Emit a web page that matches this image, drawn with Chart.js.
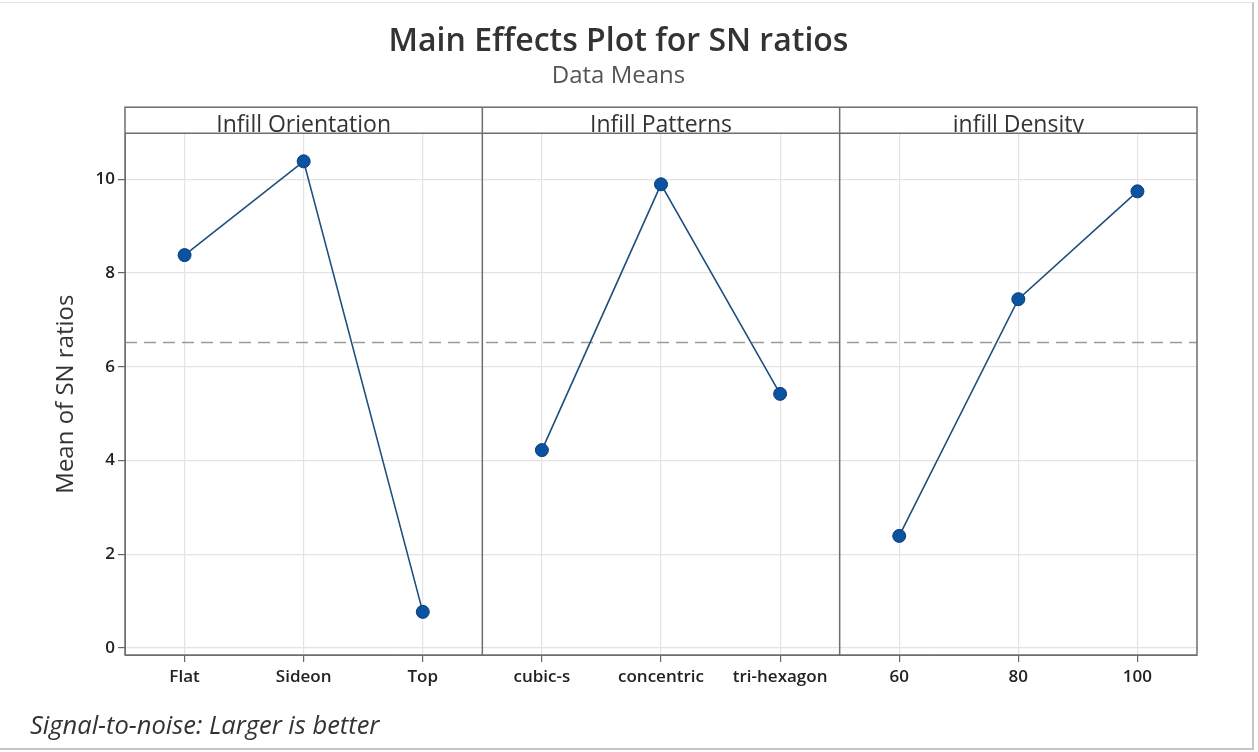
<!DOCTYPE html>
<html>
<head>
<meta charset="utf-8">
<script src="https://cdn.jsdelivr.net/npm/chart.js@4/dist/chart.umd.min.js"></script>
<style>
  html, body { margin: 0; padding: 0; background: #fff; }
  #wrap { position: relative; width: 1258px; height: 752px; }
  #frame { position: absolute; left: 0; top: 2px; width: 1252px; height: 745px;
           border-top: 1px solid #e2e2e2; border-right: 2px solid #c4c4c4; border-bottom: 2px solid #c4c4c4; }
  #note { position: absolute; left: 30px; top: 707px; font: italic 25.5px "Open Sans", sans-serif; color: #333; }
</style>
</head>
<body>
<div id="wrap">
  <canvas id="c" width="1258" height="752"></canvas>
  <div id="frame"></div>
  <div id="note">Signal-to-noise: Larger is better</div>
</div>
<script>
const panelTitles = ['Infill Orientation', 'Infill Patterns', 'infill Density'];
const orientLevels = ['Flat', 'Sideon', 'Top'];
const orientSN = [8.38, 10.38, 0.77];
const patternLevels = ['cubic-s', 'concentric', 'tri-hexagon'];
const patternSN = [4.22, 9.89, 5.42];
const densityLevels = ['60', '80', '100'];
const densitySN = [2.39, 7.44, 9.74];
const yTicks = [0, 2, 4, 6, 8, 10];

const allLevels = [...orientLevels, ...patternLevels, ...densityLevels];
const allSN = [...orientSN, ...patternSN, ...densitySN];
const grandMean = allSN.reduce((a, b) => a + b, 0) / allSN.length;

const pts = (lv, v) => lv.map((l, i) => ({ x: l, y: v[i] }));
const ds = (lv, v) => ({
  data: pts(lv, v), borderColor: '#1f4f7f', borderWidth: 1.6,
  pointRadius: 6.5, pointBackgroundColor: '#0b52a0', pointBorderColor: '#083f7c', pointBorderWidth: 1, tension: 0
});

const panelFrame = {
  id: 'panelFrame',
  beforeDatasetsDraw(chart) {
    const { ctx, chartArea: a, scales: { y } } = chart;
    ctx.save();
    // grand mean reference line
    const ym = y.getPixelForValue(grandMean);
    ctx.strokeStyle = '#9a9a9a'; ctx.lineWidth = 1.5; ctx.setLineDash([12, 7]);
    ctx.beginPath(); ctx.moveTo(a.left, ym); ctx.lineTo(a.right, ym); ctx.stroke();
    ctx.restore();
  },
  afterDraw(chart) {
    const { ctx, chartArea: a, scales: { x, x2 } } = chart;
    ctx.save();
    ctx.strokeStyle = '#6e6e6e'; ctx.lineWidth = 1.5;
    ctx.strokeRect(a.left, x2.top, a.right - a.left, a.bottom - x2.top);
    ctx.beginPath(); ctx.moveTo(a.left, a.top); ctx.lineTo(a.right, a.top); ctx.stroke();
    [2.5, 5.5].forEach(v => {
      const px = x.getPixelForValue(v);
      ctx.beginPath(); ctx.moveTo(px, x2.top); ctx.lineTo(px, a.bottom); ctx.stroke();
    });
    ctx.restore();
  }
};

new Chart(document.getElementById('c'), {
  type: 'line',
  data: { labels: allLevels, datasets: [ds(orientLevels, orientSN), ds(patternLevels, patternSN), ds(densityLevels, densitySN)] },
  options: {
    responsive: false, animation: false,
    layout: { padding: { left: 40, right: 61, top: 0, bottom: 52 } },
    plugins: {
      legend: { display: false }, tooltip: { enabled: false },
      title: { display: true, text: 'Main Effects Plot for SN ratios', color: '#333',
               font: { family: 'Open Sans', size: 32, weight: '600', lineHeight: 1.2 }, padding: { top: 23, bottom: 0 } },
      subtitle: { display: true, text: 'Data Means', color: '#555',
                  font: { family: 'Open Sans', size: 24, lineHeight: 1.2 }, padding: { top: 0, bottom: 17 } }
    },
    scales: {
      x: {
        type: 'category', offset: true,
        grid: { offset: false, color: '#e3e3e3', tickColor: '#666', tickLength: 7, lineWidth: 1.2 },
        border: { color: '#6e6e6e' },
        ticks: { color: '#222', font: { family: 'Open Sans', size: 17, weight: '600' }, padding: 5, maxRotation: 0 },
        afterFit(s) { s.height = 45; }
      },
      x2: {
        type: 'category', position: 'top', labels: panelTitles, offset: true,
        grid: { display: false }, border: { display: false },
        ticks: { color: '#333', font: { family: 'Open Sans', size: 23 }, padding: -14, maxRotation: 0 },
        afterFit(s) { s.height = 26; }
      },
      y: {
        min: -0.15, max: 10.98,
        afterBuildTicks(s) { s.ticks = yTicks.map(v => ({ value: v })); },
        grid: { color: '#e3e3e3', tickColor: '#666', tickLength: 7, lineWidth: 1.2 },
        border: { color: '#6e6e6e' },
        ticks: { color: '#222', font: { family: 'Open Sans', size: 17, weight: '600' }, padding: 3 },
        title: { display: true, text: 'Mean of SN ratios', color: '#333', font: { family: 'Open Sans', size: 24 }, padding: { top: 12, bottom: 0 } },
        afterFit(s) { s.width = 85; }
      }
    }
  },
  plugins: [panelFrame]
});
</script>
</body>
</html>
